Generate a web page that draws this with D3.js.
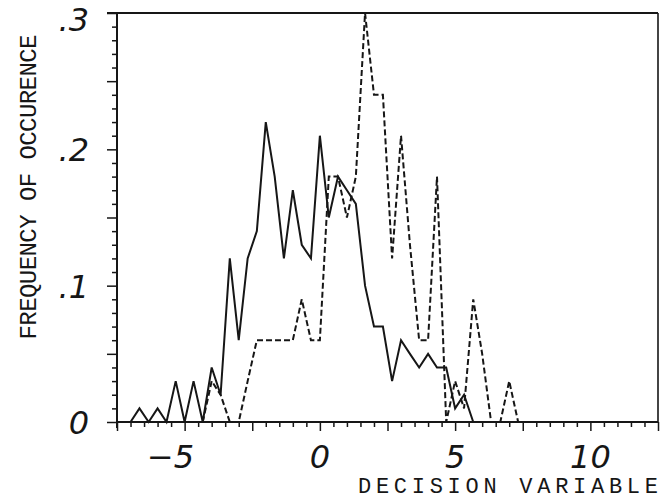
<!DOCTYPE html>
<html>
<head>
<meta charset="utf-8">
<script src="https://cdnjs.cloudflare.com/ajax/libs/d3/7.8.5/d3.min.js"></script>
<style>
  body { margin: 0; background: #fff; }
  svg { display: block; }
</style>
</head>
<body>
<div id="chart"></div>
<script>
const width = 667, height = 501;

// Solid curve: bin centres (thirds of a unit) and frequencies
const solidX = [-7, -6.67, -6.33, -6, -5.67, -5.33, -5, -4.67, -4.33, -4, -3.67, -3.33, -3,
    -2.67, -2.33, -2, -1.67, -1.33, -1, -0.67, -0.33, 0, 0.33, 0.67, 1, 1.33, 1.67, 2, 2.33,
    2.67, 3, 3.33, 3.67, 4, 4.33, 4.67, 5, 5.33, 5.67];
const solidY = [0, 0.01, 0, 0.01, 0, 0.03, 0, 0.03, 0, 0.04, 0.02, 0.12, 0.06,
    0.12, 0.14, 0.22, 0.18, 0.12, 0.17, 0.13, 0.12, 0.21, 0.15, 0.18, 0.17, 0.16, 0.10, 0.07, 0.07,
    0.03, 0.06, 0.05, 0.04, 0.05, 0.04, 0.04, 0.01, 0.02, 0];

// Dashed curve
const dashedX = [-4.67, -4.33, -4, -3.67, -3.33, -3, -2.67, -2.33, -2, -1.67, -1.33, -1,
    -0.67, -0.33, 0, 0.33, 0.67, 1, 1.33, 1.67, 2, 2.33, 2.67, 3, 3.33, 3.67, 4, 4.33, 4.67,
    5, 5.33, 5.67, 6, 6.33, 6.67, 7, 7.33];
const dashedY = [0, 0, 0.03, 0.02, 0, 0, 0.03, 0.06, 0.06, 0.06, 0.06, 0.06,
    0.09, 0.06, 0.06, 0.18, 0.18, 0.15, 0.18, 0.30, 0.24, 0.24, 0.12, 0.21, 0.13, 0.06, 0.06, 0.18, 0,
    0.03, 0.01, 0.09, 0.05, 0, 0, 0.03, 0];

const xLabelValues = [-5, 0, 5, 10];
const xLabelTexts = ["\u22125", "0", "5", "10"];
const yLabelValues = [0.3, 0.2, 0.1, 0];
const yLabelTexts = [".3", ".2", ".1", "0"];

const ink = "#161616";

const svg = d3.select("#chart")
    .append("svg")
    .attr("width", width)
    .attr("height", height)
    .style("background", "#fff");

const x = d3.scaleLinear().domain([-7.5, 12.5]).range([117, 658]);
const y = d3.scaleLinear().domain([0, 0.3]).range([422, 13]);

// frame: top line (runs past the spine as the .3 tick) and right side
svg.append("line")
    .attr("x1", 107).attr("x2", x(12.5))
    .attr("y1", y(0.3)).attr("y2", y(0.3))
    .attr("stroke", ink).attr("stroke-width", 2);
svg.append("line")
    .attr("x1", x(12.5)).attr("x2", x(12.5))
    .attr("y1", y(0.3)).attr("y2", y(0))
    .attr("stroke", ink).attr("stroke-width", 1.6);

// x axis, minor ticks every 0.5, longer every 2.5
const xTicks = d3.range(-7.5, 12.51, 0.5);
const xAxis = svg.append("g")
    .attr("transform", `translate(0, ${y(0)})`)
    .call(d3.axisBottom(x).tickValues(xTicks).tickSize(5).tickFormat(""));
xAxis.select(".domain").remove();
xAxis.selectAll(".tick line")
    .attr("stroke", ink).attr("stroke-width", 1.5)
    .attr("y2", d => Math.abs(d / 2.5 - Math.round(d / 2.5)) < 1e-6 ? 9 : 5);
svg.append("line")
    .attr("x1", x(-7.5)).attr("x2", x(12.5))
    .attr("y1", y(0)).attr("y2", y(0))
    .attr("stroke", ink).attr("stroke-width", 2);

// y axis, minor ticks every .01, longer every .05
const yTicks = d3.range(0, 0.3001, 0.01);
const yAxis = svg.append("g")
    .attr("transform", `translate(${x(-7.5)}, 0)`)
    .call(d3.axisLeft(y).tickValues(yTicks).tickSize(4).tickFormat(""));
yAxis.select(".domain").remove();
yAxis.selectAll(".tick line")
    .attr("stroke", ink).attr("stroke-width", 1.5)
    .attr("x2", d => Math.abs(d / 0.05 - Math.round(d / 0.05)) < 1e-6 ? -10 : -5);
svg.append("line")
    .attr("x1", x(-7.5)).attr("x2", x(-7.5))
    .attr("y1", y(0.3)).attr("y2", y(0) + 6)
    .attr("stroke", ink).attr("stroke-width", 2);

// curves
const line = d3.line().x(d => x(d[0])).y(d => y(d[1]));

svg.append("path")
    .datum(d3.zip(dashedX, dashedY))
    .attr("fill", "none")
    .attr("stroke", ink)
    .attr("stroke-width", 2)
    .attr("stroke-dasharray", "6,3")
    .attr("d", line);

svg.append("path")
    .datum(d3.zip(solidX, solidY))
    .attr("fill", "none")
    .attr("stroke", ink)
    .attr("stroke-width", 2)
    .attr("stroke-linejoin", "miter")
    .attr("d", line);

// tick labels (hand lettered look)
svg.selectAll(".xlab")
    .data(xLabelValues)
    .enter().append("text")
    .attr("class", "xlab")
    .attr("x", (d, i) => x(d) + (d < 0 ? -14 : 0))
    .attr("y", 468)
    .attr("text-anchor", "middle")
    .attr("font-family", "DejaVu Sans")
    .attr("font-style", "italic")
    .attr("font-size", 32)
    .attr("fill", ink)
    .text((d, i) => xLabelTexts[i]);

svg.selectAll(".ylab")
    .data(yLabelValues)
    .enter().append("text")
    .attr("class", "ylab")
    .attr("x", 89)
    .attr("y", d => Math.max(y(d) + 12, 31))
    .attr("text-anchor", "end")
    .attr("font-family", "DejaVu Sans")
    .attr("font-style", "italic")
    .attr("font-size", 32)
    .attr("fill", ink)
    .text((d, i) => yLabelTexts[i]);

// axis titles (typewriter)
svg.append("text")
    .attr("transform", "translate(36, 187) rotate(-90)")
    .attr("text-anchor", "middle")
    .attr("font-family", "Liberation Mono")
    .attr("font-size", 24)
    .attr("fill", ink)
    .attr("textLength", 305)
    .attr("lengthAdjust", "spacing")
    .text("FREQUENCY OF OCCURENCE");

svg.append("text")
    .attr("x", 508)
    .attr("y", 493)
    .attr("text-anchor", "middle")
    .attr("font-family", "Liberation Mono")
    .attr("font-size", 22)
    .attr("fill", ink)
    .attr("textLength", 300)
    .attr("lengthAdjust", "spacing")
    .text("DECISION VARIABLE");
</script>
</body>
</html>
